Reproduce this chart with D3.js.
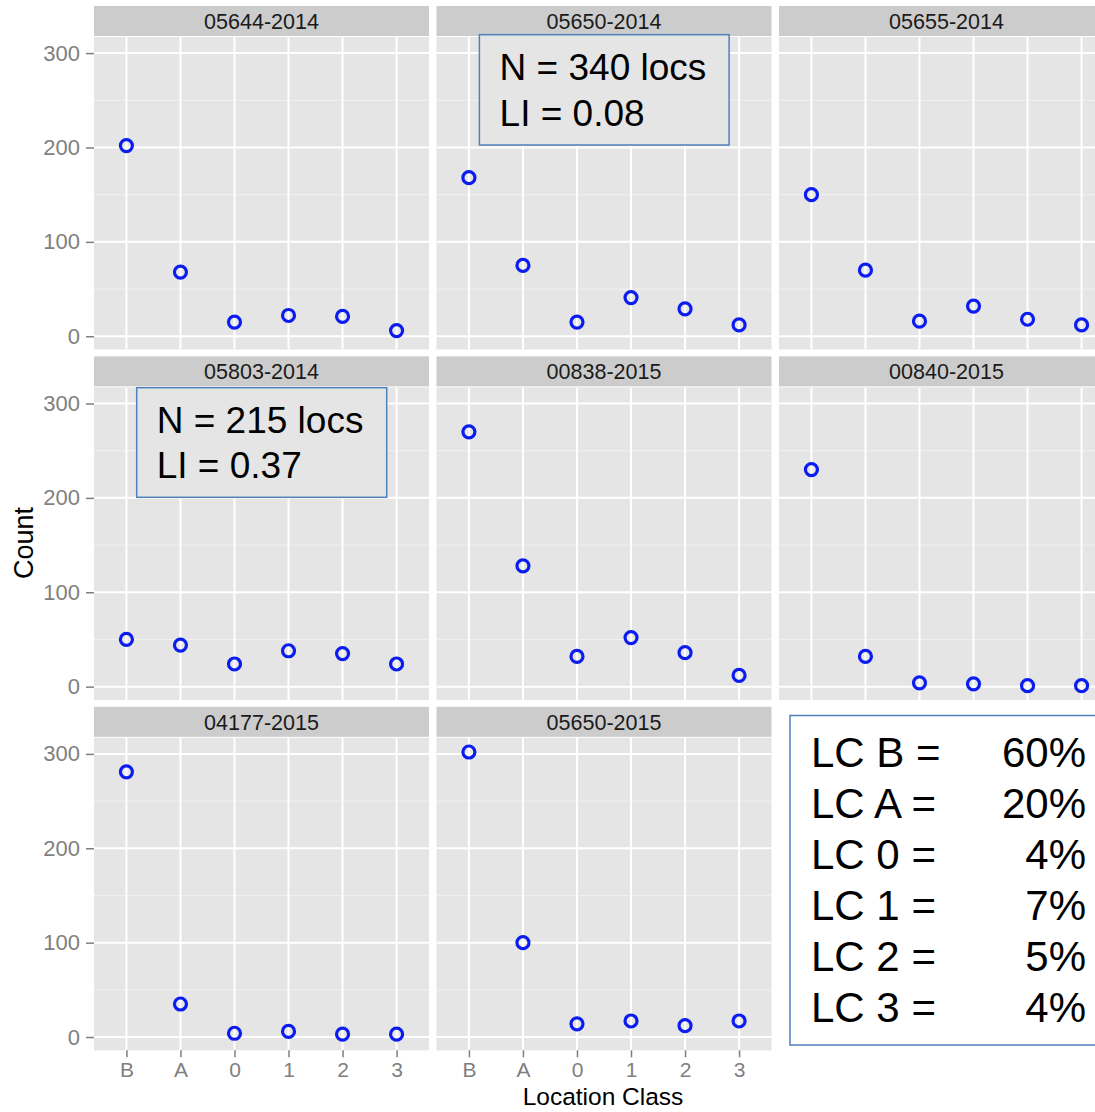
<!DOCTYPE html>
<html>
<head>
<meta charset="utf-8">
<script src="https://cdn.jsdelivr.net/npm/d3@7"></script>
<style>
  html, body { margin: 0; padding: 0; background: #fff; }
  svg { display: block; font-family: "Liberation Sans", Arial, sans-serif; }
</style>
</head>
<body>
<svg id="chart" width="1095" height="1112"></svg>
<script>
// ---- data ----
const categories = ["B", "A", "0", "1", "2", "3"];
const facetNames = ["05644-2014", "05650-2014", "05655-2014",
                    "05803-2014", "00838-2015", "00840-2015",
                    "04177-2015", "05650-2015"];
const c05644_2014 = [202, 68, 15, 22, 21, 6];
const c05650_2014 = [168, 75, 15, 41, 29, 12];
const c05655_2014 = [150, 70, 16, 32, 18, 12];
const c05803_2014 = [50, 44, 24, 38, 35, 24];
const c00838_2015 = [270, 128, 32, 52, 36, 12];
const c00840_2015 = [230, 32, 4, 3, 1, 1];
const c04177_2015 = [281, 35, 4, 6, 3, 3];
const c05650_2015 = [302, 100, 14, 17, 12, 17];
const facetCounts = [c05644_2014, c05650_2014, c05655_2014, c05803_2014,
                     c00838_2015, c00840_2015, c04177_2015, c05650_2015];
const yTicks = [0, 100, 200, 300];
const yMinorTicks = [50, 150, 250];
const note1Lines = ["N = 340 locs", "LI = 0.08"];
const note2Lines = ["N = 215 locs", "LI = 0.37"];
const lcLabels = ["LC B =", "LC A =", "LC 0 =", "LC 1 =", "LC 2 =", "LC 3 ="];
const lcPercents = ["60%", "20%", "4%", "7%", "5%", "4%"];
const xTitle = "Location Class";
const yTitle = "Count";

// ---- layout ----
const svg = d3.select("#chart");
const ncol = 3;
const colX0 = 94, colPitch = 342.5, panelW = 335;
const rowY0 = 37, rowPitch = 350.4, panelH = 312.5;
const stripH = 30, stripGap = 1;

const allVals = facetCounts.flat();
const vmin = d3.min(allVals), vmax = d3.max(allVals);
const expand = (vmax - vmin) * 0.05;
const y = d3.scaleLinear().domain([vmin - expand, vmax + expand]).range([panelH, 0]);
const x = d3.scalePoint().domain(categories).range([0, panelW]).padding(0.6);

const gridCol = "#ffffff";
const panelFill = "#e5e5e5";
const tickCol = "#7f7f7f";

facetNames.forEach((name, i) => {
  const col = i % ncol, row = Math.floor(i / ncol);
  const px = colX0 + col * colPitch;
  const py = rowY0 + row * rowPitch;
  const g = svg.append("g").attr("transform", `translate(${px},${py})`);

  // strip
  g.append("rect").attr("x", 0).attr("y", -stripH - stripGap)
    .attr("width", panelW).attr("height", stripH).attr("fill", "#cccccc");
  g.append("text").attr("x", panelW / 2).attr("y", -stripH - stripGap + stripH / 2)
    .attr("dy", "0.36em").attr("text-anchor", "middle")
    .attr("font-size", 21.5).attr("fill", "#1a1a1a").text(name);

  // panel
  g.append("rect").attr("width", panelW).attr("height", panelH).attr("fill", panelFill);
  g.selectAll("line.minor").data(yMinorTicks).enter().append("line")
    .attr("x1", 0).attr("x2", panelW)
    .attr("y1", d => y(d)).attr("y2", d => y(d))
    .attr("stroke", "#f2f2f2").attr("stroke-width", 1);
  g.selectAll("line.major").data(yTicks).enter().append("line")
    .attr("x1", 0).attr("x2", panelW)
    .attr("y1", d => y(d)).attr("y2", d => y(d))
    .attr("stroke", gridCol).attr("stroke-width", 2);
  g.selectAll("line.vgrid").data(categories).enter().append("line")
    .attr("y1", 0).attr("y2", panelH)
    .attr("x1", d => x(d)).attr("x2", d => x(d))
    .attr("stroke", gridCol).attr("stroke-width", 2);

  // y axis on first column
  if (col === 0) {
    const ya = d3.axisLeft(y).tickValues(yTicks).tickSize(8).tickPadding(6);
    const ag = g.append("g").call(ya);
    ag.select(".domain").remove();
    ag.selectAll(".tick line").attr("stroke", tickCol).attr("stroke-width", 1.5);
    ag.selectAll(".tick text").attr("fill", tickCol).attr("font-size", 22)
      .attr("font-family", "Liberation Sans, Arial, sans-serif");
  }
  // x axis on bottom panels
  if (row === 2) {
    const xa = d3.axisBottom(x).tickSize(7).tickPadding(5);
    const ag = g.append("g").attr("transform", `translate(0,${panelH})`).call(xa);
    ag.select(".domain").remove();
    ag.selectAll(".tick line").attr("stroke", tickCol).attr("stroke-width", 1.5);
    ag.selectAll(".tick text").attr("fill", tickCol).attr("font-size", 21)
      .attr("font-family", "Liberation Sans, Arial, sans-serif");
  }

  // annotation boxes
  if (name === "05650-2014") drawNote(g, 479.4 - px, 34.7 - py, 249.7, 110.3, note1Lines, 499.6 - px, [80 - py, 126 - py]);
  if (name === "05803-2014") drawNote(g, 136.7 - px, 387.7 - py, 250, 109.6, note2Lines, 156.7 - px, [433.3 - py, 478.3 - py]);

  // points
  g.selectAll("circle").data(facetCounts[i]).enter().append("circle")
    .attr("cx", (d, k) => x(categories[k]))
    .attr("cy", d => y(d))
    .attr("r", 6)
    .attr("fill", "none")
    .attr("stroke", "#0a1cf0")
    .attr("stroke-width", 3.2);
});

function drawNote(g, bx, by, bw, bh, lines, tx, baselines) {
  g.append("rect").attr("x", bx).attr("y", by).attr("width", bw).attr("height", bh)
    .attr("fill", panelFill).attr("stroke", "#4f81bd").attr("stroke-width", 1.5);
  lines.forEach((t, k) => {
    g.append("text").attr("x", tx).attr("y", baselines[k])
      .attr("font-size", 37).attr("fill", "#000").text(t);
  });
}

// axis titles
svg.append("text").attr("x", 603).attr("y", 1105)
  .attr("text-anchor", "middle").attr("font-size", 24.5).attr("fill", "#000").text(xTitle);
svg.append("text").attr("transform", "translate(33,543) rotate(-90)")
  .attr("text-anchor", "middle").attr("font-size", 27).attr("fill", "#000").text(yTitle);

// LC summary box
const lg = svg.append("g");
lg.append("rect").attr("x", 790).attr("y", 715.5).attr("width", 320).attr("height", 329.5)
  .attr("fill", "#fff").attr("stroke", "#4f81bd").attr("stroke-width", 1.5);
const lcY = d3.scalePoint().domain(lcLabels).range([767.3, 1021.7]);
lg.selectAll("text.lab").data(lcLabels).enter().append("text")
  .attr("x", 811).attr("y", d => lcY(d)).attr("font-size", 42).attr("fill", "#000").text(d => d);
lg.selectAll("text.pct").data(lcPercents).enter().append("text")
  .attr("x", 1086).attr("y", (d, k) => lcY(lcLabels[k])).attr("text-anchor", "end")
  .attr("font-size", 42).attr("fill", "#000").text(d => d);
</script>
</body>
</html>
